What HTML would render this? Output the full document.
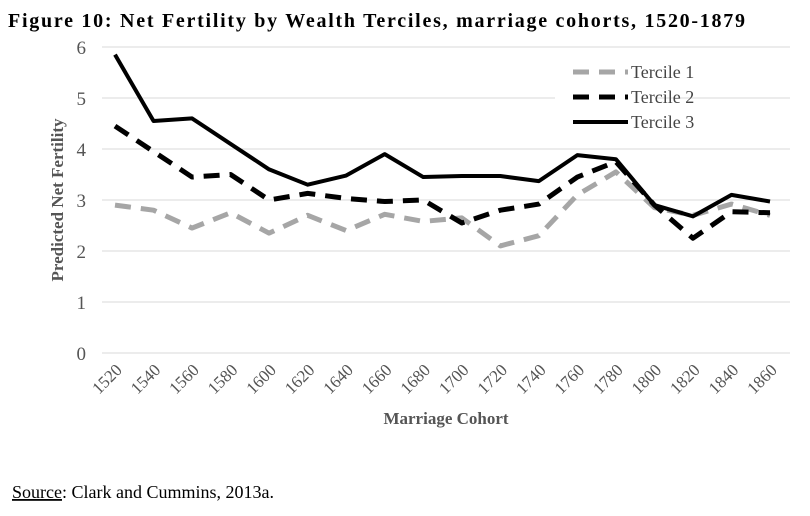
<!DOCTYPE html>
<html><head><meta charset="utf-8"><style>
body{margin:0;background:#fff;width:810px;height:511px;overflow:hidden;font-family:"Liberation Serif",serif}
</style></head><body>
<svg width="810" height="511">
<text x="8" y="27" font-size="20" font-weight="bold" font-family="Liberation Serif" textLength="737">Figure 10:  Net Fertility by Wealth Terciles, marriage cohorts, 1520-1879</text>
<g id="grid"></g><g id="series"></g><g id="axes"></g>
<g>
<rect x="555" y="58" width="100" height="78" fill="#fff"/>
<line x1="573" y1="72" x2="628" y2="72" stroke="#a6a6a6" stroke-width="5" stroke-dasharray="16,10"/>
<text x="631" y="78" font-size="18" fill="#444">Tercile 1</text>
<line x1="573" y1="97" x2="628" y2="97" stroke="#000" stroke-width="5" stroke-dasharray="16,10"/>
<text x="631" y="103" font-size="18" fill="#444">Tercile 2</text>
<line x1="573" y1="122" x2="628" y2="122" stroke="#000" stroke-width="4"/>
<text x="631" y="128" font-size="18" fill="#444">Tercile 3</text>
</g>
<text transform="translate(63,200) rotate(-90)" text-anchor="middle" font-size="17" font-weight="bold" fill="#555">Predicted Net Fertility</text>
<text x="446" y="424" text-anchor="middle" font-size="17" font-weight="bold" fill="#555">Marriage Cohort</text>
<text x="12" y="498" font-size="18"><tspan text-decoration="underline">Source</tspan>: Clark and Cummins, 2013a.</text>
</svg>
<script>
const categories=[1520,1540,1560,1580,1600,1620,1640,1660,1680,1700,1720,1740,1760,1780,1800,1820,1840,1860];
const tercile1=[2.9,2.8,2.45,2.75,2.35,2.7,2.4,2.72,2.58,2.65,2.1,2.3,3.1,3.55,2.85,2.7,2.92,2.7];
const tercile2=[4.45,3.95,3.45,3.5,3.0,3.13,3.03,2.97,3.0,2.55,2.8,2.92,3.45,3.75,2.9,2.25,2.77,2.75];
const tercile3=[5.85,4.55,4.6,4.1,3.6,3.3,3.48,3.9,3.45,3.47,3.47,3.37,3.88,3.8,2.9,2.68,3.1,2.97];
const yTicks=[0,1,2,3,4,5,6];
const NS="http://www.w3.org/2000/svg";
const X0=115,X1=770,Y0=353,Y6=47;
const xs=i=>X0+i*(X1-X0)/(categories.length-1);
const ys=v=>Y0-(Y0-Y6)*v/6;
function mk(t,a,p){const e=document.createElementNS(NS,t);for(const k in a)e.setAttribute(k,a[k]);p.appendChild(e);return e;}
const grid=document.getElementById('grid'),axes=document.getElementById('axes'),ser=document.getElementById('series');
yTicks.forEach(v=>{
 if(v>0){const g=mk('line',{x1:102,x2:790,y1:ys(v),y2:ys(v),stroke:'#d9d9d9','stroke-width':1},grid);
 
 }
 const t=mk('text',{x:86,y:ys(v)+7,'text-anchor':'end','font-size':19,fill:'#555'},axes);t.textContent=v;
 
 
});
const ax=mk('line',{x1:102,x2:790,y1:Y0,y2:Y0,stroke:'#d9d9d9','stroke-width':1},axes);


categories.forEach((c,i)=>{
 const t=mk('text',{transform:`translate(${xs(i)+8},${Y0+18}) rotate(-45)`,'text-anchor':'end','font-size':17,fill:'#555'},axes);t.textContent=c;
 
 
});
function line(d,stroke,w,dash,name){
 const p=mk('polyline',{points:d.map((v,i)=>xs(i)+','+ys(v)).join(' '),fill:'none',stroke:stroke,'stroke-width':w,'stroke-linejoin':'round'},ser);
 if(dash)p.setAttribute('stroke-dasharray',dash);
 
 
}
line(tercile1,'#a6a6a6',5,'16,10','series-tercile-1');
line(tercile2,'#000',5,'16,10','series-tercile-2');
line(tercile3,'#000',4,null,'series-tercile-3');
</script>
</body></html>
